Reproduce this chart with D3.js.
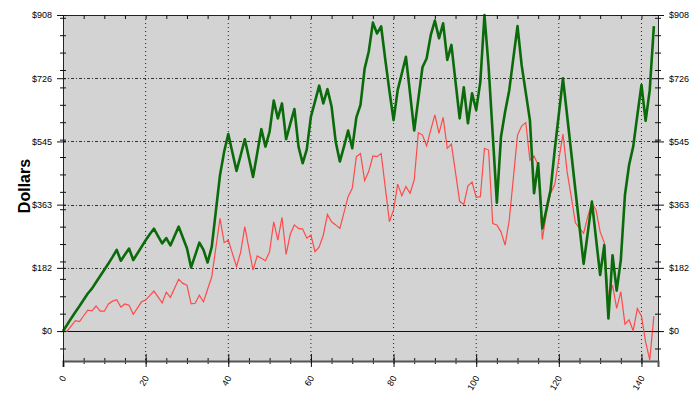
<!DOCTYPE html>
<html>
<head>
<meta charset="utf-8">
<script src="https://d3js.org/d3.v7.min.js"></script>
<style>
  body { margin: 0; background: #fff; }
  svg { display: block; font-family: "Liberation Sans", Arial, sans-serif; }
</style>
</head>
<body>
<svg width="700" height="397"></svg>
<script>
// values, one per period (0..143)
var greenValues = [0, 18, 37, 55, 72, 90, 108, 122, 140, 158, 176, 194, 213, 233, 202, 220, 237, 204, 223, 242,
    261, 278, 294, 273, 252, 267, 246, 273, 300, 269, 238, 183, 218, 254, 233, 197, 242, 345, 448, 515,
    566, 513, 460, 505, 551, 497, 443, 511, 580, 530, 573, 662, 611, 654, 551, 595, 638, 530, 482, 522,
    616, 660, 705, 654, 695, 645, 544, 487, 530, 576, 525, 614, 650, 754, 803, 886, 855, 875, 780, 690,
    606, 692, 740, 788, 682, 576, 667, 758, 783, 850, 892, 841, 884, 779, 822, 716, 611, 700, 597, 683,
    635, 716, 908, 760, 565, 369, 558, 630, 692, 785, 876, 764, 685, 606, 396, 482, 295, 350, 405, 520,
    623, 726, 620, 513, 406, 300, 193, 282, 372, 266, 161, 247, 36, 218, 116, 204, 391, 477, 530, 620,
    707, 604, 692, 876];
var redValues = [0, 0, 15, 30, 27, 44, 60, 58, 72, 57, 57, 78, 86, 90, 69, 78, 74, 48, 66, 84,
    89, 102, 115, 98, 81, 112, 97, 123, 149, 137, 132, 78, 80, 103, 84, 120, 156, 240, 324, 254,
    261, 223, 185, 227, 300, 237, 175, 216, 209, 202, 228, 314, 261, 327, 220, 278, 305, 295, 293, 267,
    276, 228, 242, 276, 335, 314, 305, 295, 340, 386, 410, 501, 510, 432, 459, 503, 501, 510, 412, 314,
    348, 422, 389, 415, 396, 434, 570, 563, 532, 578, 621, 568, 614, 525, 537, 455, 372, 364, 417, 428,
    384, 386, 525, 520, 309, 305, 285, 247, 319, 440, 563, 589, 599, 491, 503, 477, 263, 338, 396, 420,
    493, 566, 458, 386, 311, 296, 281, 329, 367, 348, 285, 254, 89, 132, 65, 113, 20, 32, 1, 65,
    43, -31, -83, 43];

var xMajorTicks = [0, 20, 40, 60, 80, 100, 120, 140];
var xMinorTicks = d3.range(0, 145, 5);
var yMajorTicks = [0, 181.6, 363.2, 544.8, 726.4, 908];
var yMinorTicks = d3.range(-50, 901, 50);
var yDomain = [-86, 908];
var xDomain = [0, 144];

function draw(){
    var svg = d3.select("svg"),
        left = 63, top = 15, right = 658, bottom = 361,
        width = right - left,
        height = bottom - top;

    var xScale = d3.scaleLinear().domain(xDomain).range([0, width]),
        yScale = d3.scaleLinear().domain(yDomain).range([height, 0]);

    var g = svg.append("g")
        .attr("transform", "translate(" + left + "," + top + ")");

    g.append("rect")
     .attr("width", width)
     .attr("height", height)
     .attr("fill", "#d3d3d3");

    // grid
    g.selectAll(".vgrid")
     .data(xMajorTicks.filter(function(d){ return d > 0; }))
     .enter().append("line")
     .attr("x1", function(d){ return xScale(d); })
     .attr("x2", function(d){ return xScale(d); })
     .attr("y1", 0)
     .attr("y2", height)
     .attr("stroke", "#222")
     .attr("stroke-width", 1)
     .attr("stroke-dasharray", "1,3");

    g.selectAll(".hgrid")
     .data(yMajorTicks.filter(function(d){ return d > 0 && d < 908; }))
     .enter().append("line")
     .attr("x1", 0)
     .attr("x2", width)
     .attr("y1", function(d){ return Math.round(yScale(d)) + 0.5; })
     .attr("y2", function(d){ return Math.round(yScale(d)) + 0.5; })
     .attr("stroke", "#333")
     .attr("stroke-width", 1)
     .attr("stroke-dasharray", "3,2,1,2");

    // zero line
    g.append("line")
     .attr("x1", 0)
     .attr("x2", width)
     .attr("y1", Math.round(yScale(0)) + 0.5)
     .attr("y2", Math.round(yScale(0)) + 0.5)
     .attr("stroke", "#111")
     .attr("stroke-width", 1);

    var line = d3.line()
        .x(function(d, i){ return xScale(i); })
        .y(function(d){ return yScale(d); });

    g.append("path")
     .datum(redValues)
     .attr("fill", "none")
     .attr("stroke", "#ff4a4a")
     .attr("stroke-width", 1.2)
     .attr("d", line);

    g.append("path")
     .datum(greenValues)
     .attr("fill", "none")
     .attr("stroke", "#0b6b0b")
     .attr("stroke-width", 2.6)
     .attr("stroke-linejoin", "round")
     .attr("d", line);

    // frame
    g.append("rect")
     .attr("x", 0.5)
     .attr("y", 0.5)
     .attr("width", width)
     .attr("height", height)
     .attr("fill", "none")
     .attr("stroke", "#222")
     .attr("stroke-width", 1);

    // bottom axis (thicker gray line, crossing ticks)
    var xAxisMinor = g.append("g")
        .attr("transform", "translate(0," + height + ")")
        .call(d3.axisBottom(xScale).tickValues(xMinorTicks).tickSize(3).tickFormat(""));
    xAxisMinor.select(".domain").remove();
    xAxisMinor.selectAll("line").attr("y1", -3).attr("stroke", "#111");

    var xAxis = g.append("g")
        .attr("transform", "translate(0," + height + ")")
        .call(d3.axisBottom(xScale).tickValues(xMajorTicks).tickSize(6).tickFormat(d3.format("d")));
    xAxis.select(".domain").attr("stroke", "#555").attr("stroke-width", 2);
    xAxis.selectAll("line").attr("y1", -7).attr("stroke", "#111");
    xAxis.selectAll("text")
     .attr("font-size", "9px")
     .attr("fill", "#000")
     .attr("text-anchor", "end")
     .attr("y", 0)
     .attr("dy", "0")
     .attr("transform", function(){ return "translate(3,17) rotate(-60)"; });

    // top ticks
    var xTop = g.append("g")
        .call(d3.axisBottom(xScale).tickValues(xMinorTicks).tickSize(4).tickFormat(""));
    xTop.select(".domain").remove();
    xTop.selectAll("line").attr("stroke", "#111");

    // left axis
    var yLeftMinor = g.append("g")
        .call(d3.axisLeft(yScale).tickValues(yMinorTicks).tickSize(3).tickFormat(""));
    yLeftMinor.select(".domain").remove();
    yLeftMinor.selectAll("line").attr("x1", 3).attr("stroke", "#111");

    var yLeft = g.append("g")
        .call(d3.axisLeft(yScale).tickValues(yMajorTicks).tickSize(6)
            .tickFormat(function(d){ return "$" + Math.round(d); }));
    yLeft.select(".domain").remove();
    yLeft.selectAll("line").attr("x1", 3).attr("stroke", "#111");
    yLeft.selectAll("text").attr("font-size", "9px").attr("fill", "#000").attr("x", -11);

    // right axis
    var yRightMinor = g.append("g")
        .attr("transform", "translate(" + width + ",0)")
        .call(d3.axisRight(yScale).tickValues(yMinorTicks).tickSize(3).tickFormat(""));
    yRightMinor.select(".domain").remove();
    yRightMinor.selectAll("line").attr("x1", -3).attr("stroke", "#111");

    var yRight = g.append("g")
        .attr("transform", "translate(" + width + ",0)")
        .call(d3.axisRight(yScale).tickValues(yMajorTicks).tickSize(6)
            .tickFormat(function(d){ return "$" + Math.round(d); }));
    yRight.select(".domain").remove();
    yRight.selectAll("line").attr("x1", -6).attr("stroke", "#111");
    yRight.selectAll("text").attr("font-size", "9px").attr("fill", "#000").attr("x", 11);

    svg.append("text")
     .attr("transform", "translate(30,186) rotate(-90)")
     .attr("text-anchor", "middle")
     .attr("font-size", "16px")
     .attr("font-weight", "bold")
     .text("Dollars");
}

draw();
</script>
</body>
</html>
